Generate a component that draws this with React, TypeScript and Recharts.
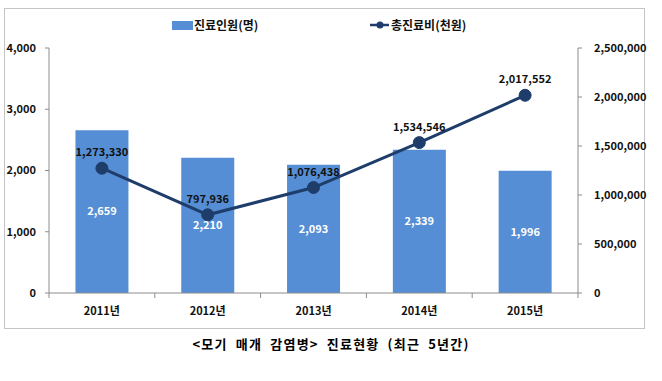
import {
  ComposedChart,
  Bar,
  Line,
  XAxis,
  YAxis,
  LabelList,
} from 'recharts';

const years = ['2011년', '2012년', '2013년', '2014년', '2015년'];
const patients = [2659, 2210, 2093, 2339, 1996];
const costs = [1273330, 797936, 1076438, 1534546, 2017552];
const leftTicks = [0, 1000, 2000, 3000, 4000];
const rightTicks = [0, 500000, 1000000, 1500000, 2000000, 2500000];

const BAR_COLOR = '#558ed5';
const LINE_COLOR = '#1f3d6b';
const AXIS_COLOR = '#8c8c8c';
const FONT = '"Noto Sans CJK KR", "Malgun Gothic", sans-serif';

const data = years.map((year, i) => ({
  year,
  patients: patients[i],
  cost: costs[i],
}));

const fmt = (v: number) => v.toLocaleString('en-US');

// ticks at category boundaries, like Excel
function CategoryTick(props: any) {
  const { x, y, payload, index } = props;
  const band = (578 - 49) / years.length;
  const top = y - 8;
  return (
    <g>
      <line x1={x - band / 2} y1={top} x2={x - band / 2} y2={top + 5} stroke={AXIS_COLOR} />
      {index === years.length - 1 && (
        <line x1={x + band / 2} y1={top} x2={x + band / 2} y2={top + 5} stroke={AXIS_COLOR} />
      )}
      <text
        x={x}
        y={top + 17}
        textAnchor="middle"
        dominantBaseline="central"
        fontSize={11}
        fontWeight={700}
        fill="#111"
        fontFamily={FONT}
      >
        {payload.value}
      </text>
    </g>
  );
}

function ChartLegend() {
  return (
    <div
      style={{
        position: 'absolute',
        left: 0,
        top: 16,
        width: 662,
        height: 20,
        fontFamily: FONT,
        fontSize: 12,
        fontWeight: 700,
        color: '#111',
      }}
    >
      <div style={{ position: 'absolute', left: 172, top: 5, width: 21, height: 9, background: BAR_COLOR }} />
      <div style={{ position: 'absolute', left: 194, top: 0, lineHeight: '18px' }}>진료인원(명)</div>
      <svg style={{ position: 'absolute', left: 370, top: 2 }} width={20} height={14}>
        <line x1={0} y1={7} x2={19} y2={7} stroke={LINE_COLOR} strokeWidth={2.5} />
        <circle cx={10} cy={7} r={3.5} fill={LINE_COLOR} />
      </svg>
      <div style={{ position: 'absolute', left: 391, top: 0, lineHeight: '18px' }}>총진료비(천원)</div>
    </div>
  );
}

export default function App() {
  return (
    <div style={{ position: 'absolute', left: 0, top: 0, width: 662, height: 381, background: '#fff' }}>
      <div
        style={{
          position: 'absolute',
          left: 4,
          top: 8,
          width: 639,
          height: 319,
          border: '1px solid #c4c4c4',
        }}
      />
      <div style={{ position: 'absolute', left: 0, top: 0 }}>
        <ComposedChart
          width={662}
          height={381}
          data={data}
          margin={{ top: 48, right: 0, bottom: 58, left: 0 }}
          barCategoryGap="25%"
        >
          <XAxis
            dataKey="year"
            axisLine={{ stroke: AXIS_COLOR }}
            tickLine={false}
            height={30}
            tick={<CategoryTick />}
            interval={0}
          />
          <YAxis
            yAxisId="left"
            width={49}
            domain={[0, 4000]}
            ticks={leftTicks}
            tickFormatter={fmt}
            axisLine={{ stroke: AXIS_COLOR }}
            tickLine={{ stroke: AXIS_COLOR }}
            tickSize={4}
            tickMargin={9}
            tick={{ fontSize: 11, fontWeight: 700, fill: '#111', fontFamily: FONT }}
          />
          <YAxis
            yAxisId="right"
            orientation="right"
            width={84}
            domain={[0, 2500000]}
            ticks={rightTicks}
            tickFormatter={fmt}
            axisLine={{ stroke: AXIS_COLOR }}
            tickLine={{ stroke: AXIS_COLOR }}
            tickSize={4}
            tickMargin={12}
            tick={{ fontSize: 11, fontWeight: 700, fill: '#111', fontFamily: FONT }}
          />
          <Bar
            yAxisId="left"
            dataKey="patients"
            name="진료인원(명)"
            fill={BAR_COLOR}
            isAnimationActive={false}
          >
            <LabelList
              dataKey="patients"
              position="center"
              formatter={(v: any) => fmt(Number(v))}
              style={{ fill: '#fff', fontSize: 11, fontWeight: 700, fontFamily: FONT }}
            />
          </Bar>
          <Line
            yAxisId="right"
            dataKey="cost"
            name="총진료비(천원)"
            stroke={LINE_COLOR}
            strokeWidth={3}
            dot={{ r: 6, fill: LINE_COLOR, stroke: LINE_COLOR, strokeWidth: 1 }}
            activeDot={false}
            isAnimationActive={false}
          >
            <LabelList
              dataKey="cost"
              position="top"
              offset={12}
              formatter={(v: any) => fmt(Number(v))}
              style={{ fill: '#111', fontSize: 11, fontWeight: 700, fontFamily: FONT }}
            />
          </Line>
        </ComposedChart>
      </div>
      <ChartLegend />
      <div
        style={{
          position: 'absolute',
          left: 0,
          width: 662,
          top: 334,
          textAlign: 'center',
          fontFamily: FONT,
          fontSize: 13,
          fontWeight: 700,
          letterSpacing: 1.2,
          wordSpacing: 4,
          color: '#000',
        }}
      >
        &lt;모기 매개 감염병&gt; 진료현황 (최근 5년간)
      </div>
    </div>
  );
}
